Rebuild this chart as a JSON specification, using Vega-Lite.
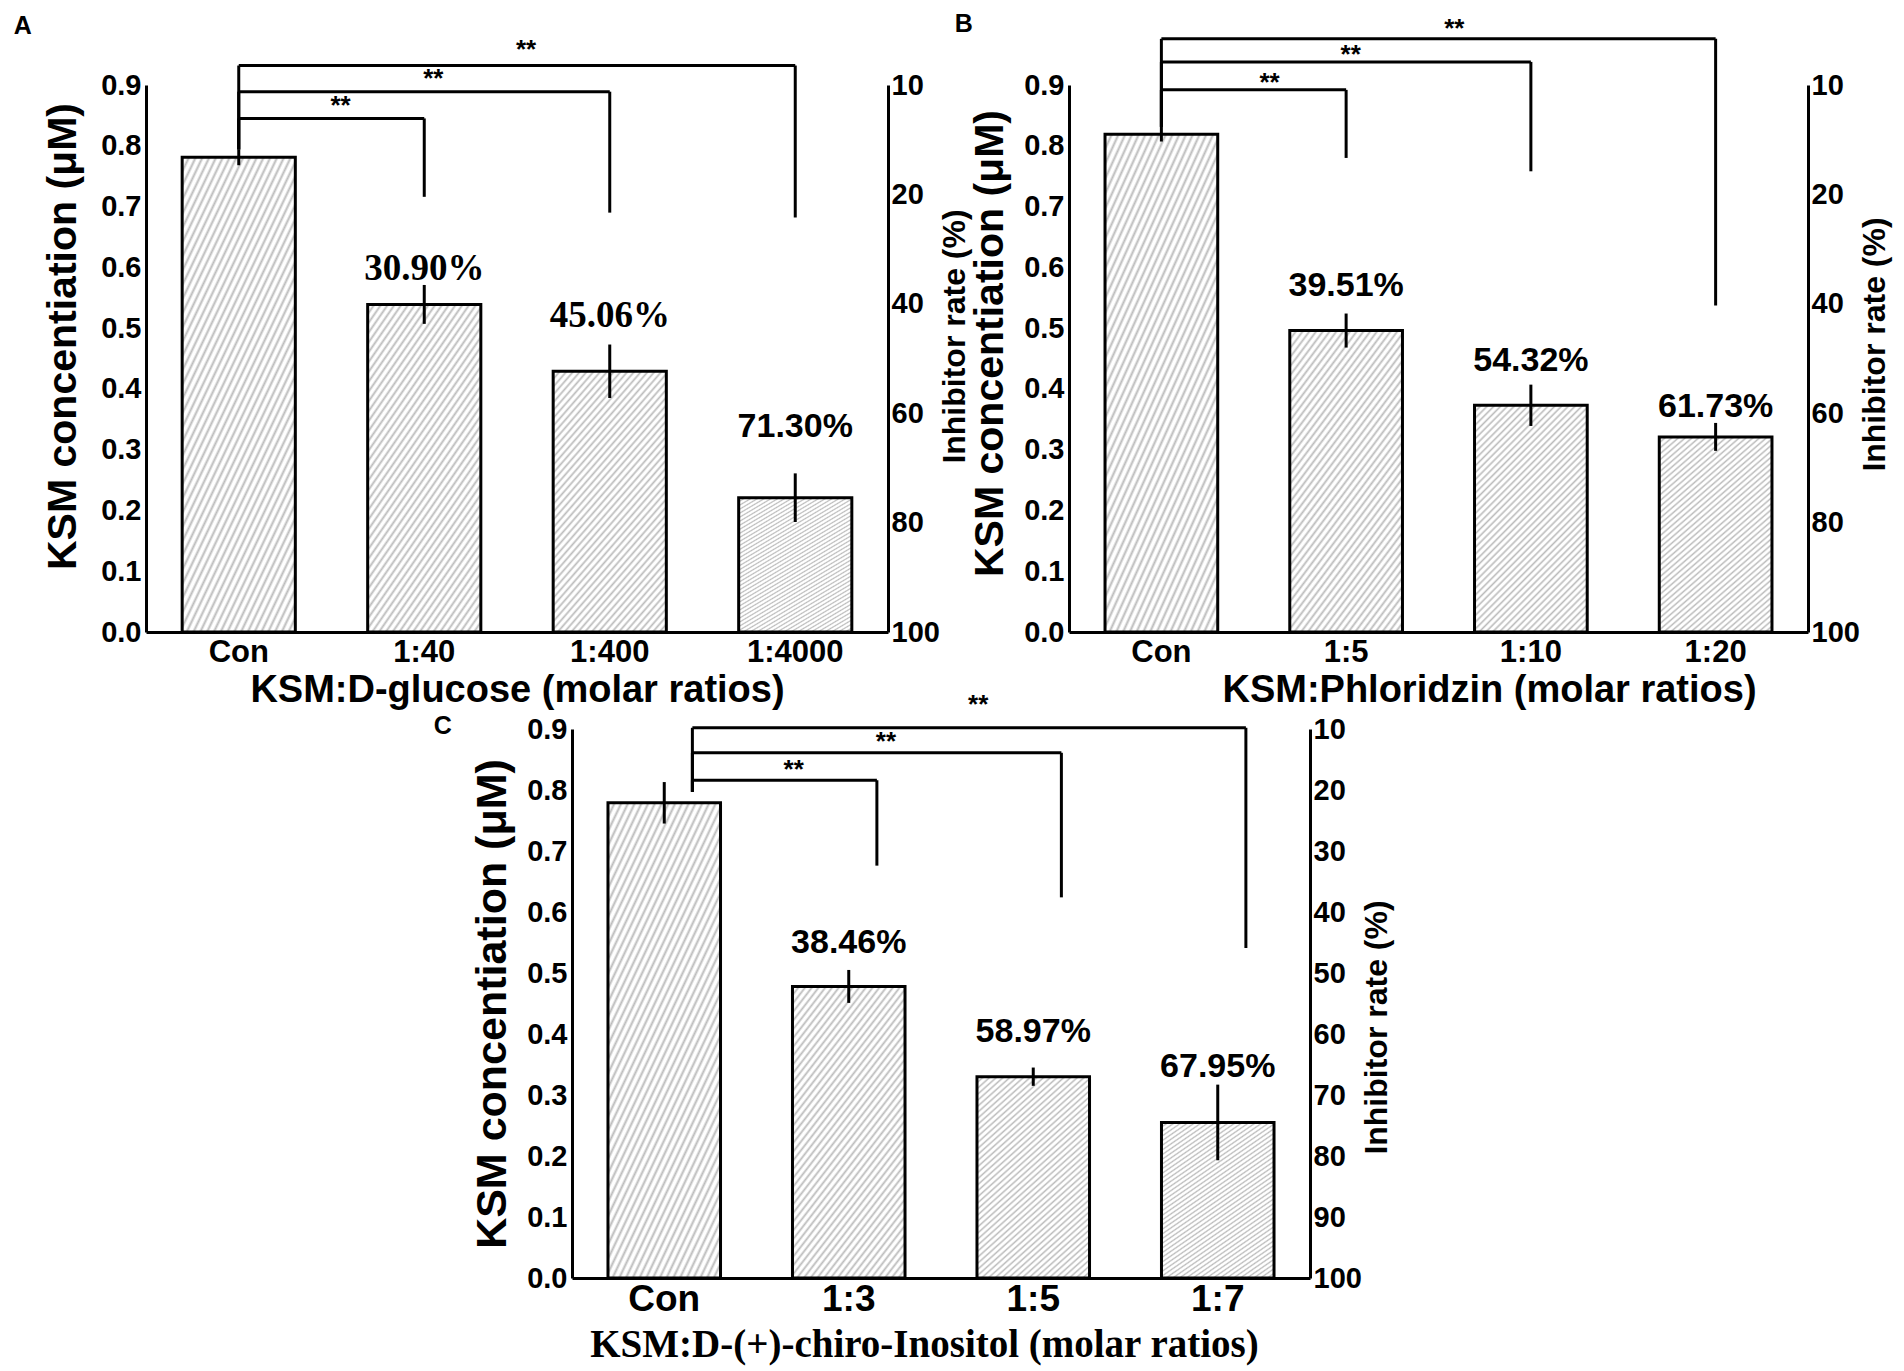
{
  "$schema": "https://vega.github.io/schema/vega-lite/v6.json",
  "background": "white",
  "padding": {"left": 13, "top": 12, "right": 5, "bottom": 5},
  "spacing": -18,
  "config": {
    "view": {"stroke": null},
    "font": "Liberation Sans",
    "axis": {
      "domainColor": "black", "domainWidth": 3, "ticks": false, "grid": false,
      "labelColor": "black", "titleColor": "black",
      "labelFont": "Liberation Sans", "titleFont": "Liberation Sans",
      "labelFontWeight": "bold", "titleFontWeight": "bold",
      "labelFlush": false, "labelOverlap": false
    },
    "bar": {
      "stroke": "black", "strokeWidth": 3,
      "fill": {
        "gradient": "linear", "x1": 0, "y1": 0, "x2": 1, "y2": 2,
        "stops": [
          {"offset": 0, "color": "#bcbcbc"}, {"offset": 0.004, "color": "#ffffff"}, {"offset": 0.008, "color": "#ffffff"},
          {"offset": 0.012, "color": "#bcbcbc"}, {"offset": 0.016, "color": "#ffffff"}, {"offset": 0.02, "color": "#ffffff"},
          {"offset": 0.024, "color": "#bcbcbc"}, {"offset": 0.028, "color": "#ffffff"}, {"offset": 0.032, "color": "#ffffff"},
          {"offset": 0.036, "color": "#bcbcbc"}, {"offset": 0.04, "color": "#ffffff"}, {"offset": 0.044, "color": "#ffffff"},
          {"offset": 0.048, "color": "#bcbcbc"}, {"offset": 0.052, "color": "#ffffff"}, {"offset": 0.056, "color": "#ffffff"},
          {"offset": 0.06, "color": "#bcbcbc"}, {"offset": 0.064, "color": "#ffffff"}, {"offset": 0.068, "color": "#ffffff"},
          {"offset": 0.072, "color": "#bcbcbc"}, {"offset": 0.076, "color": "#ffffff"}, {"offset": 0.08, "color": "#ffffff"},
          {"offset": 0.084, "color": "#bcbcbc"}, {"offset": 0.088, "color": "#ffffff"}, {"offset": 0.092, "color": "#ffffff"},
          {"offset": 0.096, "color": "#bcbcbc"}, {"offset": 0.1, "color": "#ffffff"}, {"offset": 0.104, "color": "#ffffff"},
          {"offset": 0.108, "color": "#bcbcbc"}, {"offset": 0.112, "color": "#ffffff"}, {"offset": 0.116, "color": "#ffffff"},
          {"offset": 0.12, "color": "#bcbcbc"}, {"offset": 0.124, "color": "#ffffff"}, {"offset": 0.128, "color": "#ffffff"},
          {"offset": 0.132, "color": "#bcbcbc"}, {"offset": 0.136, "color": "#ffffff"}, {"offset": 0.14, "color": "#ffffff"},
          {"offset": 0.144, "color": "#bcbcbc"}, {"offset": 0.148, "color": "#ffffff"}, {"offset": 0.152, "color": "#ffffff"},
          {"offset": 0.156, "color": "#bcbcbc"}, {"offset": 0.16, "color": "#ffffff"}, {"offset": 0.164, "color": "#ffffff"},
          {"offset": 0.168, "color": "#bcbcbc"}, {"offset": 0.172, "color": "#ffffff"}, {"offset": 0.176, "color": "#ffffff"},
          {"offset": 0.18, "color": "#bcbcbc"}, {"offset": 0.184, "color": "#ffffff"}, {"offset": 0.188, "color": "#ffffff"},
          {"offset": 0.192, "color": "#bcbcbc"}, {"offset": 0.196, "color": "#ffffff"}, {"offset": 0.2, "color": "#ffffff"},
          {"offset": 0.204, "color": "#bcbcbc"}, {"offset": 0.208, "color": "#ffffff"}, {"offset": 0.212, "color": "#ffffff"},
          {"offset": 0.216, "color": "#bcbcbc"}, {"offset": 0.22, "color": "#ffffff"}, {"offset": 0.224, "color": "#ffffff"},
          {"offset": 0.228, "color": "#bcbcbc"}, {"offset": 0.232, "color": "#ffffff"}, {"offset": 0.236, "color": "#ffffff"},
          {"offset": 0.24, "color": "#bcbcbc"}, {"offset": 0.244, "color": "#ffffff"}, {"offset": 0.248, "color": "#ffffff"},
          {"offset": 0.252, "color": "#bcbcbc"}, {"offset": 0.256, "color": "#ffffff"}, {"offset": 0.26, "color": "#ffffff"},
          {"offset": 0.264, "color": "#bcbcbc"}, {"offset": 0.268, "color": "#ffffff"}, {"offset": 0.272, "color": "#ffffff"},
          {"offset": 0.276, "color": "#bcbcbc"}, {"offset": 0.28, "color": "#ffffff"}, {"offset": 0.284, "color": "#ffffff"},
          {"offset": 0.288, "color": "#bcbcbc"}, {"offset": 0.292, "color": "#ffffff"}, {"offset": 0.296, "color": "#ffffff"},
          {"offset": 0.3, "color": "#bcbcbc"}, {"offset": 0.304, "color": "#ffffff"}, {"offset": 0.308, "color": "#ffffff"},
          {"offset": 0.312, "color": "#bcbcbc"}, {"offset": 0.316, "color": "#ffffff"}, {"offset": 0.32, "color": "#ffffff"},
          {"offset": 0.324, "color": "#bcbcbc"}, {"offset": 0.328, "color": "#ffffff"}, {"offset": 0.332, "color": "#ffffff"},
          {"offset": 0.336, "color": "#bcbcbc"}, {"offset": 0.34, "color": "#ffffff"}, {"offset": 0.344, "color": "#ffffff"},
          {"offset": 0.348, "color": "#bcbcbc"}, {"offset": 0.352, "color": "#ffffff"}, {"offset": 0.356, "color": "#ffffff"},
          {"offset": 0.36, "color": "#bcbcbc"}, {"offset": 0.364, "color": "#ffffff"}, {"offset": 0.368, "color": "#ffffff"},
          {"offset": 0.372, "color": "#bcbcbc"}, {"offset": 0.376, "color": "#ffffff"}, {"offset": 0.38, "color": "#ffffff"},
          {"offset": 0.384, "color": "#bcbcbc"}, {"offset": 0.388, "color": "#ffffff"}, {"offset": 0.392, "color": "#ffffff"},
          {"offset": 0.396, "color": "#bcbcbc"}, {"offset": 0.4, "color": "#ffffff"}, {"offset": 0.404, "color": "#ffffff"},
          {"offset": 0.408, "color": "#bcbcbc"}, {"offset": 0.412, "color": "#ffffff"}, {"offset": 0.416, "color": "#ffffff"},
          {"offset": 0.42, "color": "#bcbcbc"}, {"offset": 0.424, "color": "#ffffff"}, {"offset": 0.428, "color": "#ffffff"},
          {"offset": 0.432, "color": "#bcbcbc"}, {"offset": 0.436, "color": "#ffffff"}, {"offset": 0.44, "color": "#ffffff"},
          {"offset": 0.444, "color": "#bcbcbc"}, {"offset": 0.448, "color": "#ffffff"}, {"offset": 0.452, "color": "#ffffff"},
          {"offset": 0.456, "color": "#bcbcbc"}, {"offset": 0.46, "color": "#ffffff"}, {"offset": 0.464, "color": "#ffffff"},
          {"offset": 0.468, "color": "#bcbcbc"}, {"offset": 0.472, "color": "#ffffff"}, {"offset": 0.476, "color": "#ffffff"},
          {"offset": 0.48, "color": "#bcbcbc"}, {"offset": 0.484, "color": "#ffffff"}, {"offset": 0.488, "color": "#ffffff"},
          {"offset": 0.492, "color": "#bcbcbc"}, {"offset": 0.496, "color": "#ffffff"}, {"offset": 0.5, "color": "#ffffff"},
          {"offset": 0.504, "color": "#bcbcbc"}, {"offset": 0.508, "color": "#ffffff"}, {"offset": 0.512, "color": "#ffffff"},
          {"offset": 0.516, "color": "#bcbcbc"}, {"offset": 0.52, "color": "#ffffff"}, {"offset": 0.524, "color": "#ffffff"},
          {"offset": 0.528, "color": "#bcbcbc"}, {"offset": 0.532, "color": "#ffffff"}, {"offset": 0.536, "color": "#ffffff"},
          {"offset": 0.54, "color": "#bcbcbc"}, {"offset": 0.544, "color": "#ffffff"}, {"offset": 0.548, "color": "#ffffff"},
          {"offset": 0.552, "color": "#bcbcbc"}, {"offset": 0.556, "color": "#ffffff"}, {"offset": 0.56, "color": "#ffffff"},
          {"offset": 0.564, "color": "#bcbcbc"}, {"offset": 0.568, "color": "#ffffff"}, {"offset": 0.572, "color": "#ffffff"},
          {"offset": 0.576, "color": "#bcbcbc"}, {"offset": 0.58, "color": "#ffffff"}, {"offset": 0.584, "color": "#ffffff"},
          {"offset": 0.588, "color": "#bcbcbc"}, {"offset": 0.592, "color": "#ffffff"}, {"offset": 0.596, "color": "#ffffff"},
          {"offset": 0.6, "color": "#bcbcbc"}
        ]
      }
    },
    "rule": {"color": "black", "strokeWidth": 3},
    "text": {"font": "Liberation Sans", "fontWeight": "bold", "color": "black", "baseline": "middle", "align": "center"},
    "title": {"font": "Liberation Sans", "fontWeight": "bold", "fontSize": 25, "anchor": "start", "frame": "bounds", "color": "black", "offset": 0}
  },
  "vconcat": [
    {
      "bounds": "flush",
      "spacing": 181,
      "hconcat": [
        {
          "width": 742,
          "height": 547,
          "title": {"text": "A", "dx": -29, "dy": 6},
          "data": {"values": [
            {"g": "Con", "v": 0.781, "e": 0.013},
            {"g": "1:40", "v": 0.539, "e": 0.032, "pct": "30.90%", "ly": 0.597, "top": 0.845, "bot": 0.716, "ref": "Con", "sx": "Con", "half": true, "sy": 0.866},
            {"g": "1:400", "v": 0.429, "e": 0.044, "pct": "45.06%", "ly": 0.52, "top": 0.889, "bot": 0.69, "ref": "Con", "sx": "1:40", "half": false, "sy": 0.91},
            {"g": "1:4000", "v": 0.221, "e": 0.04, "pct": "71.30%", "ly": 0.337, "top": 0.932, "bot": 0.682, "ref": "Con", "sx": "1:40", "half": true, "sy": 0.957}
          ]},
          "layer": [
            {
              "layer": [
                {
                  "mark": {"type": "bar"},
                  "encoding": {
                    "x": {"field": "g", "type": "nominal",
                      "scale": {"domain": ["Con", "1:40", "1:400", "1:4000"], "paddingInner": 0.39, "paddingOuter": 0.195},
                      "axis": {"title": "KSM:D-glucose (molar ratios)", "labelAngle": 0, "labelFontSize": 31, "titleFontSize": 38, "labelPadding": 5, "titlePadding": 4}},
                    "y": {"field": "v", "type": "quantitative",
                      "scale": {"domain": [0, 0.9], "nice": false},
                      "axis": {"values": [0, 0.1, 0.2, 0.3, 0.4, 0.5, 0.6, 0.7, 0.8, 0.9], "format": ".1f", "labelFontSize": 29, "labelPadding": 5, "title": "KSM concentiation (μM)", "titleFontSize": 41, "titlePadding": 16, "titleY": 251}}
                  }
                },
                {
                  "mark": {"type": "errorbar", "color": "black", "thickness": 3},
                  "encoding": {
                    "x": {"field": "g", "type": "nominal"},
                    "y": {"field": "v", "type": "quantitative", "title": "KSM concentiation (μM)"},
                    "yError": {"field": "e"}
                  }
                },
                {
                  "transform": [{"filter": "datum.top != null"}],
                  "mark": {"type": "rule"},
                  "encoding": {
                    "x": {"field": "ref", "type": "nominal"},
                    "x2": {"field": "g"},
                    "y": {"field": "top", "type": "quantitative"}
                  }
                },
                {
                  "transform": [{"filter": "datum.top != null"}],
                  "mark": {"type": "rule"},
                  "encoding": {
                    "x": {"field": "g", "type": "nominal"},
                    "y": {"field": "top", "type": "quantitative"},
                    "y2": {"field": "bot"}
                  }
                },
                {
                  "transform": [{"filter": "datum.top != null"}],
                  "mark": {"type": "rule"},
                  "encoding": {
                    "x": {"field": "ref", "type": "nominal"},
                    "y": {"field": "top", "type": "quantitative"},
                    "y2": {"datum": 0.794}
                  }
                },
                {
                  "transform": [{"filter": "datum.half === true"}],
                  "mark": {"type": "text", "text": "**", "fontSize": 26},
                  "encoding": {
                    "x": {"field": "sx", "type": "nominal", "bandPosition": 1.4},
                    "y": {"field": "sy", "type": "quantitative"}
                  }
                },
                {
                  "transform": [{"filter": "datum.half === false"}],
                  "mark": {"type": "text", "text": "**", "fontSize": 26},
                  "encoding": {
                    "x": {"field": "sx", "type": "nominal", "bandPosition": 0.58},
                    "y": {"field": "sy", "type": "quantitative"}
                  }
                },
                {
                  "transform": [{"filter": "datum.pct != null && datum.g !== '1:4000'"}],
                  "mark": {"type": "text", "font": "Liberation Serif", "fontSize": 37},
                  "encoding": {
                    "x": {"field": "g", "type": "nominal"},
                    "y": {"field": "ly", "type": "quantitative"},
                    "text": {"field": "pct"}
                  }
                },
                {
                  "transform": [{"filter": "datum.g === '1:4000'"}],
                  "mark": {"type": "text", "fontSize": 34},
                  "encoding": {
                    "x": {"field": "g", "type": "nominal"},
                    "y": {"field": "ly", "type": "quantitative"},
                    "text": {"field": "pct"}
                  }
                }
              ]
            },
            {
              "mark": {"type": "point", "opacity": 0},
              "encoding": {
                "y": {"field": "v", "type": "quantitative",
                  "axis": {"orient": "right", "values": [0, 0.18, 0.36, 0.54, 0.72, 0.9],
                    "labelExpr": "datum.value > 0.8 ? '10' : datum.value > 0.6 ? '20' : datum.value > 0.45 ? '40' : datum.value > 0.27 ? '60' : datum.value > 0.09 ? '80' : '100'",
                    "labelFontSize": 29, "labelPadding": 3, "title": "Inhibitor rate (%)", "titleFontSize": 32, "titleAngle": 270, "titleBaseline": "top", "titlePadding": 0, "titleY": 251}}
              }
            }
          ],
          "resolve": {"axis": {"y": "independent"}}
        },
        {
          "width": 739,
          "height": 547,
          "title": {"text": "B", "dx": -15, "dy": 25},
          "data": {"values": [
            {"g": "Con", "v": 0.819, "e": 0.012},
            {"g": "1:5", "v": 0.496, "e": 0.028, "pct": "39.51%", "ly": 0.57, "top": 0.892, "bot": 0.78, "ref": "Con", "sx": "Con", "half": true, "sy": 0.904},
            {"g": "1:10", "v": 0.373, "e": 0.034, "pct": "54.32%", "ly": 0.446, "top": 0.938, "bot": 0.758, "ref": "Con", "sx": "1:5", "half": false, "sy": 0.95},
            {"g": "1:20", "v": 0.321, "e": 0.023, "pct": "61.73%", "ly": 0.37, "top": 0.976, "bot": 0.537, "ref": "Con", "sx": "1:5", "half": true, "sy": 0.992}
          ]},
          "layer": [
            {
              "layer": [
                {
                  "mark": {"type": "bar"},
                  "encoding": {
                    "x": {"field": "g", "type": "nominal",
                      "scale": {"domain": ["Con", "1:5", "1:10", "1:20"], "paddingInner": 0.39, "paddingOuter": 0.195},
                      "axis": {"title": "KSM:Phloridzin (molar ratios)", "labelAngle": 0, "labelFontSize": 31, "titleFontSize": 38, "labelPadding": 5, "titlePadding": 4, "titleX": 420}},
                    "y": {"field": "v", "type": "quantitative",
                      "scale": {"domain": [0, 0.9], "nice": false},
                      "axis": {"values": [0, 0.1, 0.2, 0.3, 0.4, 0.5, 0.6, 0.7, 0.8, 0.9], "format": ".1f", "labelFontSize": 29, "labelPadding": 5, "title": "KSM concentiation (μM)", "titleFontSize": 41, "titlePadding": 12, "titleY": 258}}
                  }
                },
                {
                  "mark": {"type": "errorbar", "color": "black", "thickness": 3},
                  "encoding": {
                    "x": {"field": "g", "type": "nominal"},
                    "y": {"field": "v", "type": "quantitative", "title": "KSM concentiation (μM)"},
                    "yError": {"field": "e"}
                  }
                },
                {
                  "transform": [{"filter": "datum.top != null"}],
                  "mark": {"type": "rule"},
                  "encoding": {
                    "x": {"field": "ref", "type": "nominal"},
                    "x2": {"field": "g"},
                    "y": {"field": "top", "type": "quantitative"}
                  }
                },
                {
                  "transform": [{"filter": "datum.top != null"}],
                  "mark": {"type": "rule"},
                  "encoding": {
                    "x": {"field": "g", "type": "nominal"},
                    "y": {"field": "top", "type": "quantitative"},
                    "y2": {"field": "bot"}
                  }
                },
                {
                  "transform": [{"filter": "datum.top != null"}],
                  "mark": {"type": "rule"},
                  "encoding": {
                    "x": {"field": "ref", "type": "nominal"},
                    "y": {"field": "top", "type": "quantitative"},
                    "y2": {"datum": 0.831}
                  }
                },
                {
                  "transform": [{"filter": "datum.half === true"}],
                  "mark": {"type": "text", "text": "**", "fontSize": 26},
                  "encoding": {
                    "x": {"field": "sx", "type": "nominal", "bandPosition": 1.46},
                    "y": {"field": "sy", "type": "quantitative"}
                  }
                },
                {
                  "transform": [{"filter": "datum.half === false"}],
                  "mark": {"type": "text", "text": "**", "fontSize": 26},
                  "encoding": {
                    "x": {"field": "sx", "type": "nominal", "bandPosition": 0.54},
                    "y": {"field": "sy", "type": "quantitative"}
                  }
                },
                {
                  "transform": [{"filter": "datum.pct != null"}],
                  "mark": {"type": "text", "fontSize": 34},
                  "encoding": {
                    "x": {"field": "g", "type": "nominal"},
                    "y": {"field": "ly", "type": "quantitative"},
                    "text": {"field": "pct"}
                  }
                }
              ]
            },
            {
              "mark": {"type": "point", "opacity": 0},
              "encoding": {
                "y": {"field": "v", "type": "quantitative",
                  "axis": {"orient": "right", "values": [0, 0.18, 0.36, 0.54, 0.72, 0.9],
                    "labelExpr": "datum.value > 0.8 ? '10' : datum.value > 0.6 ? '20' : datum.value > 0.45 ? '40' : datum.value > 0.27 ? '60' : datum.value > 0.09 ? '80' : '100'",
                    "labelFontSize": 29, "labelPadding": 3, "title": "Inhibitor rate (%)", "titleFontSize": 32, "titleAngle": 270, "titleBaseline": "top", "titlePadding": 0, "titleY": 259}}
              }
            }
          ],
          "resolve": {"axis": {"y": "independent"}}
        }
      ]
    },
    {
      "bounds": "flush",
      "spacing": 0,
      "hconcat": [
        {
          "width": 426,
          "height": 10,
          "data": {"values": [{}]},
          "mark": {"type": "point", "opacity": 0}
        },
        {
          "width": 738,
          "height": 549,
          "title": {"text": "C", "dx": -38, "dy": 51},
          "data": {"values": [
            {"g": "Con", "v": 0.779, "e": 0.034},
            {"g": "1:3", "v": 0.478, "e": 0.027, "pct": "38.46%", "ly": 0.55, "top": 0.816, "bot": 0.676, "ref": "Con", "sx": "Con", "half": true, "sy": 0.832},
            {"g": "1:5", "v": 0.33, "e": 0.015, "pct": "58.97%", "ly": 0.403, "top": 0.861, "bot": 0.624, "ref": "Con", "sx": "1:3", "half": false, "sy": 0.879},
            {"g": "1:7", "v": 0.255, "e": 0.062, "pct": "67.95%", "ly": 0.346, "top": 0.902, "bot": 0.541, "ref": "Con", "sx": "1:3", "half": true, "sy": 0.94}
          ]},
          "layer": [
            {
              "layer": [
                {
                  "mark": {"type": "bar"},
                  "encoding": {
                    "x": {"field": "g", "type": "nominal",
                      "scale": {"domain": ["Con", "1:3", "1:5", "1:7"], "paddingInner": 0.39, "paddingOuter": 0.195},
                      "axis": {"title": "KSM:D-(+)-chiro-Inositol  (molar ratios)", "titleFont": "Liberation Serif", "labelAngle": 0, "labelFontSize": 37, "titleFontSize": 39, "labelPadding": 3, "titlePadding": 8, "titleX": 352}},
                    "y": {"field": "v", "type": "quantitative",
                      "scale": {"domain": [0, 0.9], "nice": false},
                      "axis": {"values": [0, 0.1, 0.2, 0.3, 0.4, 0.5, 0.6, 0.7, 0.8, 0.9], "format": ".1f", "labelFontSize": 29, "labelPadding": 5, "title": "KSM concentiation (μM)", "titleFontSize": 43, "titlePadding": 12}}
                  }
                },
                {
                  "mark": {"type": "errorbar", "color": "black", "thickness": 3},
                  "encoding": {
                    "x": {"field": "g", "type": "nominal"},
                    "y": {"field": "v", "type": "quantitative", "title": "KSM concentiation (μM)"},
                    "yError": {"field": "e"}
                  }
                },
                {
                  "transform": [{"filter": "datum.top != null"}],
                  "mark": {"type": "rule"},
                  "encoding": {
                    "x": {"field": "ref", "type": "nominal", "bandPosition": 0.75},
                    "x2": {"field": "g", "bandPosition": 0.75},
                    "y": {"field": "top", "type": "quantitative"}
                  }
                },
                {
                  "transform": [{"filter": "datum.top != null"}],
                  "mark": {"type": "rule"},
                  "encoding": {
                    "x": {"field": "g", "type": "nominal", "bandPosition": 0.75},
                    "y": {"field": "top", "type": "quantitative"},
                    "y2": {"field": "bot"}
                  }
                },
                {
                  "transform": [{"filter": "datum.top != null"}],
                  "mark": {"type": "rule"},
                  "encoding": {
                    "x": {"field": "ref", "type": "nominal", "bandPosition": 0.75},
                    "y": {"field": "top", "type": "quantitative"},
                    "y2": {"datum": 0.797}
                  }
                },
                {
                  "transform": [{"filter": "datum.half === true"}],
                  "mark": {"type": "text", "text": "**", "fontSize": 26},
                  "encoding": {
                    "x": {"field": "sx", "type": "nominal", "bandPosition": 1.65},
                    "y": {"field": "sy", "type": "quantitative"}
                  }
                },
                {
                  "transform": [{"filter": "datum.half === false"}],
                  "mark": {"type": "text", "text": "**", "fontSize": 26},
                  "encoding": {
                    "x": {"field": "sx", "type": "nominal", "bandPosition": 0.83},
                    "y": {"field": "sy", "type": "quantitative"}
                  }
                },
                {
                  "transform": [{"filter": "datum.pct != null"}],
                  "mark": {"type": "text", "fontSize": 34},
                  "encoding": {
                    "x": {"field": "g", "type": "nominal"},
                    "y": {"field": "ly", "type": "quantitative"},
                    "text": {"field": "pct"}
                  }
                }
              ]
            },
            {
              "mark": {"type": "point", "opacity": 0},
              "encoding": {
                "y": {"field": "v", "type": "quantitative",
                  "axis": {"orient": "right", "values": [0, 0.1, 0.2, 0.3, 0.4, 0.5, 0.6, 0.7, 0.8, 0.9],
                    "labelExpr": "'' + round(100 - datum.value * 100)",
                    "labelFontSize": 29, "labelPadding": 3, "title": "Inhibitor rate (%)", "titleFontSize": 32, "titleAngle": 270, "titleBaseline": "top", "titlePadding": 0, "titleY": 298}}
              }
            }
          ],
          "resolve": {"axis": {"y": "independent"}}
        }
      ]
    }
  ]
}
